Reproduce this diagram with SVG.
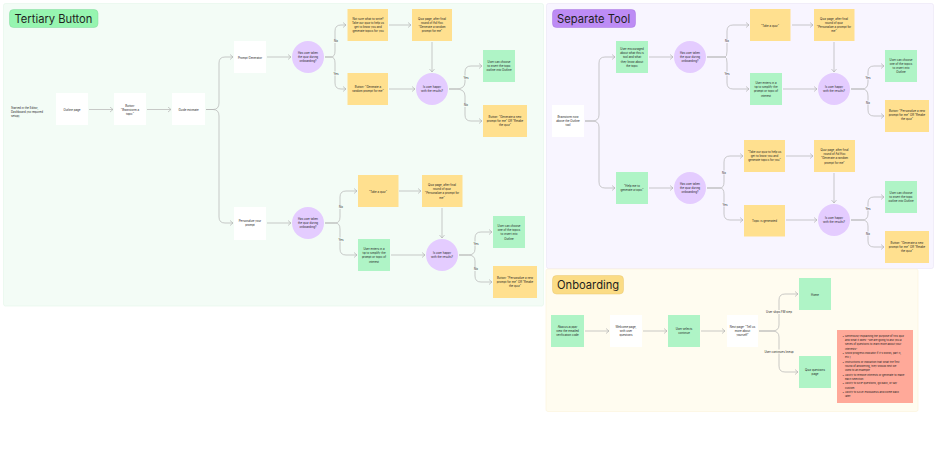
<svg xmlns="http://www.w3.org/2000/svg" width="937" height="463" viewBox="0 0 937 463">
<style>
text{font-family:Inter,"Liberation Sans",sans-serif;fill:#1e1e1e;font-size:2.85px;text-anchor:middle}
.l{text-anchor:start}
.t{font-size:11.2px;text-anchor:start}
.s{font-size:2.7px}
.w{fill:#fff}.g{fill:#aff4c6}.y{fill:#ffe08f}.p{fill:#e4ccff}.r{fill:#ffa999}
#connectors path{fill:none;stroke:#b3b3b3;stroke-width:.7;marker-end:url(#m)}
</style>
<defs><marker id="m" markerWidth="6" markerHeight="6" refX="4.500" refY="3" orient="auto" markerUnits="userSpaceOnUse"><path d="M1.500 .5L4.500 3L1.500 5.500" fill="none" stroke="#b3b3b3" stroke-width=".7"/></marker></defs>
<rect width="937" height="463" fill="#fff"/>
<g id="sections">
<rect x="3.500" y="3.500" width="540" height="302.500" rx="2" fill="#f3fcf6" stroke="#e6f7eb" stroke-width=".7"/>
<rect x="546.500" y="3.500" width="387" height="265" rx="2" fill="#f8f5ff" stroke="#ece6f7" stroke-width=".7"/>
<rect x="546" y="269" width="372" height="142.500" rx="2" fill="#fffcf0" stroke="#fcf3dc" stroke-width=".7"/>
<rect x="9.500" y="9.500" width="88.500" height="18" rx="4" fill="#96f5b0" stroke="#82d99c" stroke-width=".5"/><text class="t" x="14.500" y="22.800">Tertiary Button</text>
<rect x="552.500" y="9.500" width="83" height="18" rx="4" fill="#bd8cf5" stroke="#a877e0" stroke-width=".5"/><text class="t" x="557" y="22.800">Separate Tool</text>
<rect x="552.500" y="275.500" width="71" height="18.500" rx="4" fill="#fbdc85" stroke="#e8c873" stroke-width=".5"/><text class="t" x="557" y="289">Onboarding</text>
</g>
<g id="connectors">
<path d="M89 109.500H113"/><path d="M147 109.500H171"/>
<path d="M206 109.500H213Q219 109.500 219 103V63Q219 57 225 57H233"/><path d="M206 109.500H213Q219 109.500 219 116V217Q219 223 225 223H233"/>
<path d="M267 57H291"/><path d="M267 223H291"/>
<path d="M325 57H331Q335 57 335 51V31Q335 25 341 25H346"/><path d="M325 57H331Q335 57 335 63V83Q335 89 341 89H346"/>
<path d="M389 25H411"/><path d="M432 42V72"/><path d="M389 89H415"/>
<path d="M449 89H456Q465 89 465 82V72Q465 66 471 66H482"/><path d="M449 89H456Q465 89 465 96V115Q465 121 471 121H482"/>
<path d="M325 223H335Q340 223 340 217V197Q340 191 346 191H357"/><path d="M325 223H335Q340 223 340 229V249Q340 255 346 255H357"/>
<path d="M399 191H421"/><path d="M442 208V238"/><path d="M391 255H425"/>
<path d="M459 255H468Q475 255 475 249V238Q475 232 481 232H492"/><path d="M459 255H468Q475 255 475 261V276Q475 282 481 282H492"/>
<path d="M585 121H592Q599 121 599 115V63Q599 57 605 57H615"/><path d="M585 121H592Q599 121 599 127V182Q599 188 605 188H615"/>
<path d="M649 57H673"/><path d="M649 188H673"/>
<path d="M707 57H725Q727 57 727 51V31Q727 25 733 25H749"/><path d="M707 57H725Q727 57 727 63V83Q727 89 733 89H749"/>
<path d="M792 25H813"/><path d="M834 42V72"/><path d="M783 89H817"/>
<path d="M851 89H862Q868 89 868 82V72Q868 66 874 66H884"/><path d="M851 89H862Q868 89 868 96V110Q868 116 874 116H884"/>
<path d="M707 188H720Q724 188 724 182V162Q724 156 730 156H743"/><path d="M707 188H720Q724 188 724 194V214Q724 220 730 220H743"/>
<path d="M786 156H813"/><path d="M834 173V203"/><path d="M786 220H817"/>
<path d="M851 220H862Q868 220 868 214V203Q868 197 874 197H884"/><path d="M851 220H862Q868 220 868 226V241Q868 247 874 247H884"/>
<path d="M585 331H609"/><path d="M643 331H667"/><path d="M701 331H725"/>
<path d="M759 331H772Q779 331 779 325V300Q779 294 785 294H798"/><path d="M759 331H772Q779 331 779 337V366Q779 372 785 372H798"/>
</g>
<g id="edge-labels">
<rect x="333" y="39" width="6" height="4" fill="#f3fcf6"/><rect x="333" y="71.500" width="6" height="4" fill="#f3fcf6"/><rect x="463" y="75.500" width="6" height="4" fill="#f3fcf6"/><rect x="463" y="103" width="6" height="4" fill="#f3fcf6"/><rect x="338" y="205" width="6" height="4" fill="#f3fcf6"/><rect x="338" y="237.500" width="6" height="4" fill="#f3fcf6"/><rect x="473" y="241.500" width="6" height="4" fill="#f3fcf6"/><rect x="473" y="267" width="6" height="4" fill="#f3fcf6"/>
<rect x="724" y="39" width="6" height="4" fill="#f8f5ff"/><rect x="724" y="71.500" width="6" height="4" fill="#f8f5ff"/><rect x="865" y="75.500" width="6" height="4" fill="#f8f5ff"/><rect x="865" y="100.500" width="6" height="4" fill="#f8f5ff"/><rect x="721" y="170.500" width="6" height="4" fill="#f8f5ff"/><rect x="722" y="202.500" width="6" height="4" fill="#f8f5ff"/><rect x="865" y="206.500" width="6" height="4" fill="#f8f5ff"/><rect x="865" y="231.500" width="6" height="4" fill="#f8f5ff"/>
<rect x="765" y="310" width="28" height="4" fill="#fffcf0"/><rect x="762" y="349.500" width="34" height="4" fill="#fffcf0"/>
<text x="336" y="42">No</text><text x="336" y="74.500">Yes</text><text x="466" y="78.500">Yes</text><text x="466" y="106">No</text>
<text x="341" y="208">No</text><text x="341" y="240.500">Yes</text><text x="476" y="244.500">Yes</text><text x="476" y="270">No</text>
<text x="727" y="42">No</text><text x="727" y="74.500">Yes</text><text x="868" y="78.500">Yes</text><text x="868" y="103.500">No</text>
<text x="724" y="173.500">No</text><text x="725" y="205.500">Yes</text><text x="868" y="209.500">Yes</text><text x="868" y="234.500">No</text>
<text x="779" y="313">User skips FM step</text><text x="779" y="352.500">User continues lineup</text>
</g>
<text id="n-start" class="l" x="11" y="108.500">Started in the Editor,<tspan x="11" dy="4.200">Dashboard (no required</tspan><tspan x="11" dy="4.200">setup)</tspan></text>
<g id="n1"><rect class="w" x="56" y="93" width="32" height="32"/><text x="72" y="110.500">Outline page</text></g>
<g id="n2"><rect class="w" x="114" y="93" width="32" height="32"/><text x="130" y="106.500">Button:<tspan x="130" dy="4.200">"Brainstorm a</tspan><tspan x="130" dy="4.200">topic"</tspan></text></g>
<g id="n3"><rect class="w" x="172" y="93" width="33" height="32"/><text x="188.500" y="110.500">Guide estimate</text></g>
<g id="n4"><rect class="w" x="234" y="41" width="32" height="32"/><text x="250" y="58.500">Prompt Generator</text></g>
<g id="n5"><circle class="p" cx="308" cy="57" r="16"/><text x="308" y="54">Has user taken<tspan x="308" dy="4.200">the quiz during</tspan><tspan x="308" dy="4.200">onboarding?</tspan></text></g>
<g id="n6"><rect class="y" x="347.500" y="9" width="40.500" height="32"/><text x="368" y="19.500">Not sure what to write?<tspan x="368" dy="4.200">Take our quiz to help us</tspan><tspan x="368" dy="4.200">get to know you and</tspan><tspan x="368" dy="4.200">generate topics for you</tspan></text></g>
<g id="n7"><rect class="y" x="412" y="9" width="40" height="32"/><text x="432" y="19.500">Quiz page, after final<tspan x="432" dy="4.200">round of Ad Hoc</tspan><tspan x="432" dy="4.200">"Generate a random</tspan><tspan x="432" dy="4.200">prompt for me"</tspan></text></g>
<g id="n8"><rect class="y" x="347.500" y="73" width="40.500" height="32"/><text x="368" y="88">Button: "Generate a<tspan x="368" dy="4.200">random prompt for me"</tspan></text></g>
<g id="n9"><circle class="p" cx="432" cy="89" r="16"/><text x="432" y="88">Is user happy<tspan x="432" dy="4.200">with the results?</tspan></text></g>
<g id="n10"><rect class="g" x="483" y="50" width="32" height="32"/><text x="499" y="63">User can choose<tspan x="499" dy="4.200">to insert the topic</tspan><tspan x="499" dy="4.200">outline into Outline</tspan></text></g>
<g id="n11"><rect class="y" x="483" y="105" width="44" height="32"/><text x="505" y="118">Button: "Generate a new<tspan x="505" dy="4.200">prompt for me" OR "Retake</tspan><tspan x="505" dy="4.200">the quiz"</tspan></text></g>
<g id="n12"><rect class="w" x="234" y="207" width="32" height="33"/><text x="250" y="222">Personalize your<tspan x="250" dy="4.200">prompt</tspan></text></g>
<g id="n13"><circle class="p" cx="308" cy="223" r="16"/><text x="308" y="220">Has user taken<tspan x="308" dy="4.200">the quiz during</tspan><tspan x="308" dy="4.200">onboarding?</tspan></text></g>
<g id="n14"><rect class="y" x="358" y="175" width="40.500" height="32"/><text x="378" y="192.500">"Take a quiz"</text></g>
<g id="n15"><rect class="y" x="422" y="175" width="40.500" height="32"/><text x="442" y="186">Quiz page, after final<tspan x="442" dy="4.200">round of quiz</tspan><tspan x="442" dy="4.200">"Personalize a prompt for</tspan><tspan x="442" dy="4.200">me"</tspan></text></g>
<g id="n16"><rect class="g" x="358" y="239" width="32" height="32"/><text x="374" y="250">User enters in a<tspan x="374" dy="4.200">tip to simplify the</tspan><tspan x="374" dy="4.200">prompt or topic of</tspan><tspan x="374" dy="4.200">interest</tspan></text></g>
<g id="n17"><circle class="p" cx="442" cy="255" r="16"/><text x="442" y="254">Is user happy<tspan x="442" dy="4.200">with the results?</tspan></text></g>
<g id="n18"><rect class="g" x="493" y="216" width="32" height="32"/><text x="509" y="227">User can choose<tspan x="509" dy="4.200">one of the topics</tspan><tspan x="509" dy="4.200">to insert into</tspan><tspan x="509" dy="4.200">Outline</tspan></text></g>
<g id="n19"><rect class="y" x="493" y="266" width="44" height="32"/><text x="515" y="278.500">Button: "Personalize a new<tspan x="515" dy="4.200">prompt for me" OR "Retake</tspan><tspan x="515" dy="4.200">the quiz"</tspan></text></g>
<g id="n20"><rect class="w" x="552" y="105" width="32" height="32"/><text x="568" y="118">Brainstorm now<tspan x="568" dy="4.200">above the Outline</tspan><tspan x="568" dy="4.200">tool</tspan></text></g>
<g id="n21"><rect class="g" x="616" y="41" width="32" height="32"/><text x="632" y="50">User encouraged<tspan x="632" dy="4.200">about what this is</tspan><tspan x="632" dy="4.200">tool and what</tspan><tspan x="632" dy="4.200">they know about</tspan><tspan x="632" dy="4.200">the topic</tspan></text></g>
<g id="n22"><circle class="p" cx="690" cy="57" r="16"/><text x="690" y="54">Has user taken<tspan x="690" dy="4.200">the quiz during</tspan><tspan x="690" dy="4.200">onboarding?</tspan></text></g>
<g id="n23"><rect class="y" x="750" y="9" width="40.500" height="32"/><text x="770" y="26.500">"Take a quiz"</text></g>
<g id="n24"><rect class="y" x="814" y="9" width="40.500" height="32"/><text x="834" y="19.500">Quiz page, after final<tspan x="834" dy="4.200">round of quiz</tspan><tspan x="834" dy="4.200">"Personalize a prompt for</tspan><tspan x="834" dy="4.200">me"</tspan></text></g>
<g id="n25"><rect class="g" x="750" y="73" width="32" height="32"/><text x="766" y="84">User enters in a<tspan x="766" dy="4.200">tip to simplify the</tspan><tspan x="766" dy="4.200">prompt or topic of</tspan><tspan x="766" dy="4.200">interest</tspan></text></g>
<g id="n26"><circle class="p" cx="834" cy="89" r="16"/><text x="834" y="88">Is user happy<tspan x="834" dy="4.200">with the results?</tspan></text></g>
<g id="n27"><rect class="g" x="885" y="50" width="32" height="32"/><text x="901" y="60.500">User can choose<tspan x="901" dy="4.200">one of the topics</tspan><tspan x="901" dy="4.200">to insert into</tspan><tspan x="901" dy="4.200">Outline</tspan></text></g>
<g id="n28"><rect class="y" x="885" y="100" width="44" height="32"/><text x="907" y="112">Button: "Personalize a new<tspan x="907" dy="4.200">prompt for me" OR "Retake</tspan><tspan x="907" dy="4.200">the quiz"</tspan></text></g>
<g id="n29"><rect class="g" x="616" y="172" width="32" height="32"/><text x="632" y="187">"Help me to<tspan x="632" dy="4.200">generate a topic"</tspan></text></g>
<g id="n30"><circle class="p" cx="690" cy="188" r="16"/><text x="690" y="185">Has user taken<tspan x="690" dy="4.200">the quiz during</tspan><tspan x="690" dy="4.200">onboarding?</tspan></text></g>
<g id="n31"><rect class="y" x="744" y="140" width="41" height="32"/><text x="764.500" y="153">"Take our quiz to help us<tspan x="764.500" dy="4.200">get to know you and</tspan><tspan x="764.500" dy="4.200">generate topics for you"</tspan></text></g>
<g id="n32"><rect class="y" x="814" y="140" width="41" height="32"/><text x="834.500" y="151">Quiz page, after final<tspan x="834.500" dy="4.200">round of Ad Hoc</tspan><tspan x="834.500" dy="4.200">"Generate a random</tspan><tspan x="834.500" dy="4.200">prompt for me"</tspan></text></g>
<g id="n33"><rect class="y" x="744" y="205" width="41" height="31.500"/><text x="764.500" y="222">Topic is generated</text></g>
<g id="n34"><circle class="p" cx="834" cy="220" r="16"/><text x="834" y="219">Is user happy<tspan x="834" dy="4.200">with the results?</tspan></text></g>
<g id="n35"><rect class="g" x="885" y="181" width="32" height="32"/><text x="901" y="194">User can choose<tspan x="901" dy="4.200">to insert the topic</tspan><tspan x="901" dy="4.200">outline into Outline</tspan></text></g>
<g id="n36"><rect class="y" x="885" y="231" width="44" height="32"/><text x="907" y="243.500">Button: "Generate a new<tspan x="907" dy="4.200">prompt for me" OR "Retake</tspan><tspan x="907" dy="4.200">the quiz"</tspan></text></g>
<g id="n37"><rect class="g" x="551" y="315" width="33" height="32"/><text x="567.500" y="328">Abacus.ai/ajay<tspan x="567.500" dy="4.200">view the emailed</tspan><tspan x="567.500" dy="4.200">verification code</tspan></text></g>
<g id="n38"><rect class="w" x="610" y="315" width="32" height="32"/><text x="626" y="328">Welcome page,<tspan x="626" dy="4.200">with user</tspan><tspan x="626" dy="4.200">questions</tspan></text></g>
<g id="n39"><rect class="g" x="668" y="315" width="32" height="32"/><text x="684" y="330">User selects<tspan x="684" dy="4.200">continue</tspan></text></g>
<g id="n40"><rect class="w" x="727" y="315" width="31" height="32"/><text x="742.500" y="328">Next page: "Tell us<tspan x="742.500" dy="4.200">more about</tspan><tspan x="742.500" dy="4.200">yourself"</tspan></text></g>
<g id="n41"><rect class="g" x="799" y="278" width="32" height="32"/><text x="815" y="295.500">Home</text></g>
<g id="n42"><rect class="g" x="799" y="356" width="32" height="32"/><text x="815" y="371">Quiz questions<tspan x="815" dy="4.200">page</tspan></text></g>
<g id="n43"><rect class="r" x="837" y="330" width="76" height="73"/>
<text class="l s" x="842.500" y="336.500">•<tspan x="845" dy="0">Generously explaining the purpose of this quiz</tspan><tspan x="845" dy="4.350">and what it does: "We are going to ask you a</tspan><tspan x="845" dy="4.350">series of questions to learn more about your</tspan><tspan x="845" dy="4.350">interests"</tspan><tspan x="842.500" dy="4.350">•</tspan><tspan x="845" dy="0">Show progress indicator if it's words, part 3,</tspan><tspan x="845" dy="4.350">etc.)</tspan><tspan x="842.500" dy="4.350">•</tspan><tspan x="845" dy="0">Instructions or indication that what the first</tspan><tspan x="845" dy="4.350">round of answering, they should next be</tspan><tspan x="845" dy="4.350">used to an example</tspan><tspan x="842.500" dy="4.350">•</tspan><tspan x="845" dy="0">Ability to remove interests or generate to make</tspan><tspan x="845" dy="4.350">each selection</tspan><tspan x="842.500" dy="4.350">•</tspan><tspan x="845" dy="0">Ability to SKIP questions, go back, or say</tspan><tspan x="845" dy="4.350">custom</tspan><tspan x="842.500" dy="4.350">•</tspan><tspan x="845" dy="0">Ability to SAVE PROGRESS and come back</tspan><tspan x="845" dy="4.350">later</tspan></text></g>
</svg>
